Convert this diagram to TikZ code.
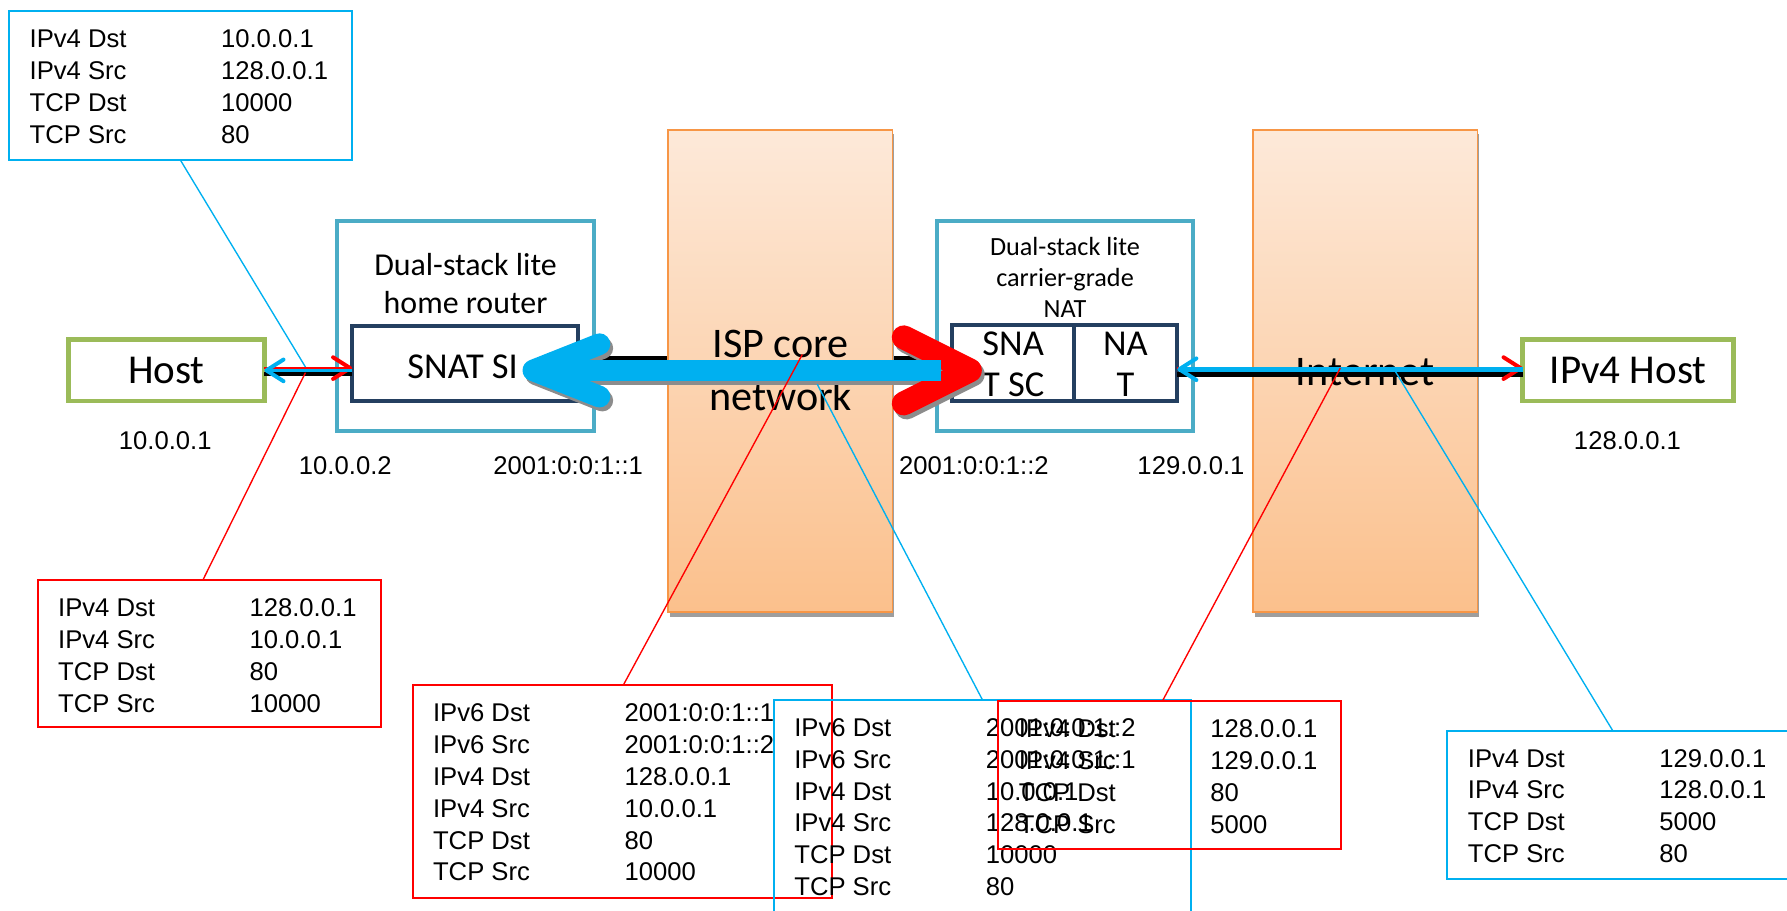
\documentclass[tikz,border=0pt]{standalone}
\usepackage{fontspec}
\setmainfont{Liberation Sans}
\newfontfamily\calfont{Carlito}
\usetikzlibrary{calc,arrows.meta,shadows}

\definecolor{cblue}{HTML}{00B0F0}
\definecolor{cred}{HTML}{FF0000}
\definecolor{tealbox}{HTML}{4BACC6}
\definecolor{navybox}{HTML}{243F60}
\definecolor{greenbox}{HTML}{9BBB59}
\definecolor{orng}{HTML}{F79646}
\definecolor{peachtop}{HTML}{FDE9D9}
\definecolor{peachbot}{HTML}{FBC08C}

% one row per header field: label column and value column
\newcommand{\pktrows}[2]{%
  \foreach \lab/\val [count=\i] in {#2} {
    \node[pkt] (#1-l\i) at ($(#1.north west)+(18,4+28*\i)$) {\lab};
    \node[pkt] (#1-v\i) at ($(#1.north west)+(186,4+28*\i)$) {\val};
  }}

% the thick tunnel arrow between the two dual-stack lite boxes
\newcommand{\tunnelarrow}[2]{%
  \draw[#2, line width=21pt, line cap=round, line join=round]
    ($(bigR)+(-58,-29)$) -- (bigR) -- ($(bigR)+(-58,29)$);
  \draw[#1, line width=18pt] ($(bigR)+(-25,0)$) -- ($(bigL)+(12,0)$);
  \draw[#1, line width=19pt, line cap=round, line join=round]
    ($(bigL)+(58,-23)$) -- (bigL) -- ($(bigL)+(58,23)$);}

\begin{document}
\begin{tikzpicture}[x=1pt,y=-1pt,
  every node/.style={inner sep=0pt, outer sep=0pt},
  pkt/.style={font=\fontsize{22.5}{27}\selectfont, anchor=base west},
  addr/.style={font=\fontsize{22.5}{27}\selectfont},
  hostbox/.style={draw=greenbox, line width=4pt, fill=white, minimum height=54pt,
    font=\calfont\fontsize{36}{40}\selectfont},
  devbox/.style={draw=tealbox, line width=3.5pt, minimum width=225pt, minimum height=184pt},
  unitbox/.style={draw=navybox, line width=3.5pt},
  unitfont/.style={font=\calfont\fontsize{32}{36}\selectfont, align=center},
  colfont/.style={font=\calfont\fontsize{37}{44}\selectfont},
  column/.style={draw=orng, line width=1.5pt, top color=peachtop, bottom color=peachbot,
    minimum width=197pt, minimum height=423pt,
    drop shadow={shadow xshift=1.5pt, shadow yshift=-4pt, fill=black!38, opacity=1}},
  wire/.style={draw=black, line width=4pt},
  callout/.style={draw=#1, line width=1.8pt, anchor=north west},
  leader/.style={draw=#1, line width=1.2pt},
  smalltip/.style={-{Straight Barb[length=15pt,width=19pt,line width=3.5pt,round]}}
]
\useasboundingbox (0,0) rectangle (1568,799);

% end hosts and dual-stack lite devices
\node[hostbox, minimum width=172pt] (host) at (146,325) {Host};
\node[hostbox, minimum width=185pt] (v4host) at (1428.5,325) {IPv4 Host};

\node[devbox] (hr) at (408.5,286) {};
\node[font=\calfont\fontsize{28}{33}\selectfont, align=center] (hrtitle) at (408.5,249) {Dual-stack lite\\home router};
\node[unitbox, minimum width=198pt, minimum height=66pt] (snat) at (408,319) {};
\node[unitfont] (snatlbl) at (406,322) {SNAT SI};

\node[devbox] (cgn) at (934.5,286) {};
\node[font=\calfont\fontsize{23}{27.5}\selectfont, align=center] (cgntitle) at (934.5,243.5) {Dual-stack lite\\carrier-grade\\NAT};
\node[unitbox, minimum width=107pt, minimum height=67pt] (sc) at (888.5,318.5) {};
\node[unitbox, minimum width=91pt, minimum height=67pt] (nt) at (987.5,318.5) {};
\node[unitfont] (sclbl) at (889,320) {SNA\\T SC};
\node[unitfont] (ntlbl) at (987.5,320) {NA\\T};

% plain links underneath
\draw[wire] ([yshift=-3pt]host.east) -- ([yshift=-3pt]host.east -| snat.west);
\draw[wire] ([yshift=5pt]snat.east) -- ([yshift=5pt]snat.east -| sc.west);

% networks
\node[column] (isp) at (684.5,325.5) {};
\node[column] (inet) at (1198,325.5) {};
\node[colfont, anchor=base] (isplbl1) at (685,314) {ISP core};
\node[colfont, anchor=base] (isplbl2) at (685,360) {network};
\node[colfont, anchor=base] (inetlbl) at (1198,338) {Internet};

% interface addresses
\node[addr] (a-host) at (145,387) {10.0.0.1};
\node[addr] (a-hrin) at (303,409) {10.0.0.2};
\node[addr] (a-hrout) at (498.5,409) {2001:0:0:1::1};
\node[addr] (a-cgnin) at (854.5,409) {2001:0:0:1::2};
\node[addr] (a-cgnout) at (1045,409) {129.0.0.1};
\node[addr] (a-v4host) at (1428,387) {128.0.0.1};

\draw[wire] ([yshift=-3.5pt]v4host.west -| nt.east) -- ([yshift=-3.5pt]v4host.west);

% IPv4 hops: red outbound, blue return
\draw[cred, line width=2pt, smalltip] ([yshift=2pt]host.east) -- ([yshift=2pt]host.east -| snat.west);
\draw[cblue, line width=3pt, smalltip] (host.east -| snat.west) -- (host.east);

\draw[cred, line width=2pt, smalltip] ([yshift=2pt]v4host.west -| nt.east) -- ([yshift=2pt]v4host.west);
\draw[cblue, line width=4pt, smalltip] ([yshift=1pt]v4host.west) -- ([yshift=1pt]v4host.west -| nt.east);

% IPv6 tunnel
\coordinate (bigL) at ([xshift=-39pt,yshift=-6pt]snat.east);
\coordinate (bigR) at ([xshift=16pt,yshift=-6.5pt]sc.west);
\begin{scope}[transform canvas={shift={(2.5,3.5)}}]
  \tunnelarrow{black!45}{black!45}
\end{scope}
\tunnelarrow{cblue}{cred}

% packet headers on each segment
\node[callout=cblue, minimum width=301pt, minimum height=130pt] (cA) at (8,10) {};
\pktrows{cA}{IPv4 Dst/10.0.0.1, IPv4 Src/128.0.0.1, TCP Dst/10000, TCP Src/80}

\node[callout=cred, minimum width=301pt, minimum height=129pt] (cB) at (33,509) {};
\pktrows{cB}{IPv4 Dst/128.0.0.1, IPv4 Src/10.0.0.1, TCP Dst/80, TCP Src/10000}

\node[callout=cred, minimum width=368pt, minimum height=187pt] (cC) at (362,601) {};
\pktrows{cC}{IPv6 Dst/2001:0:0:1::1, IPv6 Src/2001:0:0:1::2, IPv4 Dst/128.0.0.1, IPv4 Src/10.0.0.1, TCP Dst/80, TCP Src/10000}

\node[callout=cblue, minimum width=366pt, minimum height=210pt] (cD) at (679,614) {};
\pktrows{cD}{IPv6 Dst/2001:0:0:1::2, IPv6 Src/2001:0:0:1::1, IPv4 Dst/10.0.0.1, IPv4 Src/128.0.0.1, TCP Dst/10000, TCP Src/80}

\node[callout=cred, minimum width=301pt, minimum height=130pt] (cE) at (876,615) {};
\pktrows{cE}{IPv4 Dst/128.0.0.1, IPv4 Src/129.0.0.1, TCP Dst/80, TCP Src/5000}

\node[callout=cblue, minimum width=330pt, minimum height=130pt] (cF) at (1270,641) {};
\pktrows{cF}{IPv4 Dst/129.0.0.1, IPv4 Src/128.0.0.1, TCP Dst/5000, TCP Src/80}

% leaders from each header box to its segment
\coordinate (pA) at (268,322);
\coordinate (pB) at (268,327);
\coordinate (pC) at (704,311);
\coordinate (pD) at (717,337);
\coordinate (pE) at (1176,323);
\coordinate (pF) at (1222,322);
\draw[leader=cblue] ([xshift=150pt]cA.south west) -- (pA);
\draw[leader=cred] ([xshift=145pt]cB.north west) -- (pB);
\draw[leader=cred] ([xshift=185pt]cC.north west) -- (pC);
\draw[leader=cblue] ([xshift=183pt]cD.north west) -- (pD);
\draw[leader=cred] ([xshift=144pt]cE.north west) -- (pE);
\draw[leader=cblue] ([xshift=145pt]cF.north west) -- (pF);
\end{tikzpicture}
\end{document}
